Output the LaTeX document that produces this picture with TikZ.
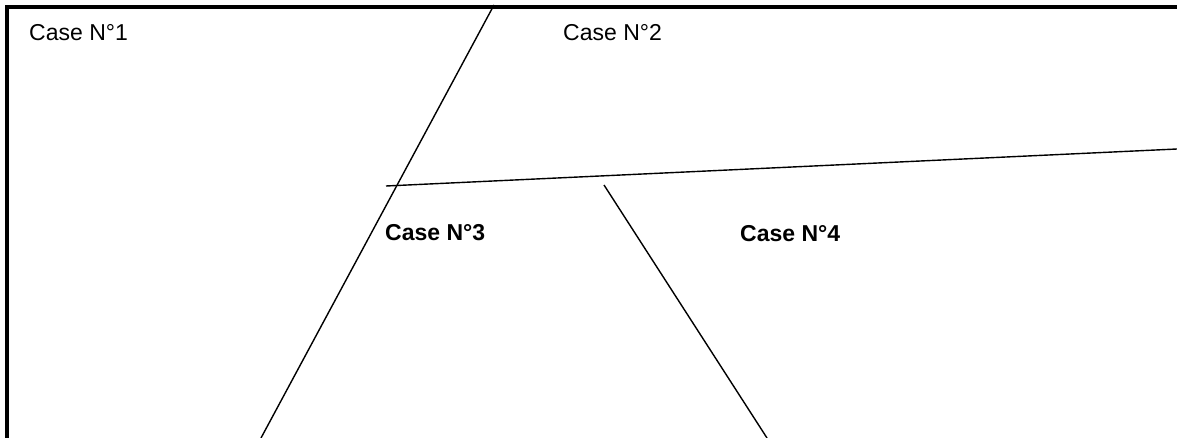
\documentclass[tikz,border=0pt]{standalone}
\usepackage{fontspec}
\setmainfont{Liberation Sans}
\begin{document}
\begin{tikzpicture}[x=1pt,y=-1pt,
  frame/.style={line width=4pt, line join=miter},
  sep/.style={line width=1.4pt},
  lbl/.style={anchor=base west, inner sep=0pt, font=\fontsize{23}{27}\selectfont},
  blbl/.style={lbl, font=\fontsize{23}{27}\selectfont\bfseries}]
\useasboundingbox (0,0) rectangle (1177,438);
% frame
\coordinate (fbl) at (7,438);
\coordinate (ftl) at (7,7);
\coordinate (ftr) at (1177,7);
\draw[frame] (fbl) -- (ftl) -- (ftr);
% separating lines
\coordinate (a1) at (494,5);
\coordinate (a2) at (261,438);
\coordinate (b1) at (386,186);
\coordinate (b2) at (1177,149);
\coordinate (c1) at (604,185);
\coordinate (c2) at (767,438);
\draw[sep] (a1) -- (a2);
\draw[sep] (b1) -- (b2);
\draw[sep] (c1) -- (c2);
% labels
\node[lbl] (t1) at (29,41) {Case N°1};
\node[lbl] (t2) at (563,41) {Case N°2};
\node[blbl] (t3) at (385,241) {Case N°3};
\node[blbl] (t4) at (740,242) {Case N°4};
\end{tikzpicture}
\end{document}
